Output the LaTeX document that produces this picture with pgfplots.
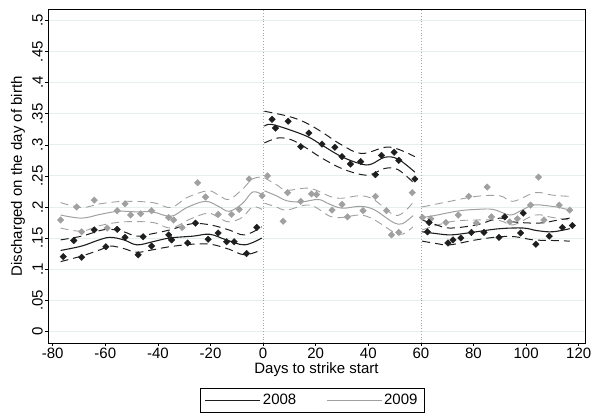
\documentclass[border=0pt]{standalone}
\usepackage{pgfplots}
\pgfplotsset{compat=1.18}
\usepackage{fontspec}
\setmainfont{Liberation Sans}
\definecolor{blk}{HTML}{1E1E1E}
\definecolor{gry}{HTML}{A0A0A0}
\definecolor{gridc}{HTML}{E6EFF0}
\begin{document}
\fontsize{15bp}{18bp}\selectfont
\begin{tikzpicture}
\begin{axis}[
  at={(0,0)}, anchor=south west,
  scale only axis, width=537bp, height=333bp,
  xmin=-81.8, xmax=122.4, ymin=-0.019, ymax=0.517,
  xtick={-80,-60,-40,-20,0,20,40,60,80,100,120},
  xticklabels={-80,-60,-40,-20,0,20,40,60,80,100,120},
  ytick={0,0.05,0.1,0.15,0.2,0.25,0.3,0.35,0.4,0.45,0.5},
  yticklabels={0,.05,.1,.15,.2,.25,.3,.35,.4,.45,.5},
  yticklabel style={rotate=90, anchor=south, inner sep=2bp},
  xticklabel style={inner sep=1.5bp},
  tick align=outside, major tick length=3bp,
  tick style={black, line width=0.6pt},
  xtick pos=bottom, ytick pos=left,
  ymajorgrids, grid style={gridc, line width=0.8pt},
  axis line style={black, line width=1pt},
  xlabel={Days to strike start},
  ylabel={Discharged on the day of birth},
  xlabel style={at={(axis description cs:0.5,-0.081)}, anchor=center},
  ylabel style={at={(axis description cs:-0.056,0.5)}, anchor=center},
  legend style={at={(axis description cs:0.492,-0.136)}, anchor=north, draw=black, line width=0.6pt,
    legend columns=2, inner xsep=5bp, inner ysep=3.5bp,
    /tikz/every even column/.append style={column sep=28bp}},
  legend cell align=left,
  legend image code/.code={\draw[#1] (0bp,0bp) -- (55bp,0bp);},
]
\addlegendimage{blk, line width=1pt}
\addlegendentry{2008}
\addlegendimage{gry, line width=0.8pt}
\addlegendentry{2009}

% vertical reference lines
\addplot[gray!70, dotted, line width=0.8pt, forget plot] coordinates {(0,-0.019) (0,0.517)};
\addplot[gray!70, dotted, line width=0.8pt, forget plot] coordinates {(60,-0.019) (60,0.517)};

\pgfplotsset{gfit/.style={gry, line width=1pt, smooth, tension=0.6, forget plot},
             gci/.style={gry, line width=0.9pt, dash pattern=on 8bp off 5bp, smooth, tension=0.6, forget plot},
             bfit/.style={blk, line width=1.1pt, smooth, tension=0.6, forget plot},
             bci/.style={blk, line width=1pt, dash pattern=on 8bp off 5bp, smooth, tension=0.6, forget plot},
             gpt/.style={only marks, mark=square*, mark size=2.3bp, gry, mark options={fill=gry, rotate=45}, forget plot},
             bpt/.style={only marks, mark=square*, mark size=2.3bp, blk, mark options={fill=blk, rotate=45}, forget plot}}

% ---------------- 2009 (gray) ----------------
\addplot[gfit] coordinates {(-77,0.187) (-69,0.182) (-62,0.188) (-55,0.193) (-48,0.192) (-42,0.192) (-35,0.185) (-29,0.199) (-22,0.209) (-17,0.201) (-13,0.193) (-8,0.205) (-4,0.224) (-0.5,0.220)};
\addplot[gci] coordinates {(-77,0.207) (-69,0.199) (-62,0.205) (-53,0.209) (-42,0.207) (-35,0.199) (-29,0.215) (-21,0.226) (-17,0.219) (-13,0.212) (-8,0.228) (-4,0.245) (-0.5,0.248)};
\addplot[gci] coordinates {(-77,0.166) (-69,0.161) (-62,0.170) (-53,0.176) (-42,0.175) (-35,0.166) (-28,0.180) (-21,0.190) (-17,0.183) (-13,0.176) (-8,0.183) (-4,0.200) (-0.5,0.196)};

\addplot[gfit] coordinates {(0.5,0.226) (5,0.218) (9,0.210) (14.5,0.208) (21,0.212) (25,0.205) (30,0.198) (37,0.201) (42,0.196) (47,0.182) (50,0.174) (53,0.173) (57,0.186)};
\addplot[gci] coordinates {(0.5,0.247) (5,0.236) (9,0.227) (17.7,0.230) (25.4,0.217) (30,0.214) (36.8,0.218) (42,0.212) (49.4,0.188) (53,0.190) (57,0.207)};
\addplot[gci] coordinates {(0.5,0.206) (5,0.200) (9,0.195) (17.7,0.203) (25.4,0.185) (30,0.183) (36.8,0.187) (42,0.180) (49.4,0.160) (53,0.156) (57,0.168)};

\addplot[gfit] coordinates {(60.5,0.183) (65,0.186) (69.7,0.190) (75,0.194) (81,0.196) (87.5,0.196) (93.8,0.187) (98,0.194) (102.7,0.203) (108,0.202) (111.6,0.200) (116.6,0.195)};
\addplot[gci] coordinates {(60.5,0.200) (71,0.209) (81,0.217) (90,0.218) (95,0.209) (103.5,0.223) (110,0.219) (116.6,0.217)};
\addplot[gci] coordinates {(60.5,0.163) (71,0.176) (81,0.179) (90,0.178) (95,0.171) (103.5,0.187) (110,0.183) (116.6,0.179)};

\addplot[gpt] coordinates {(-77.0,0.179) (-70.9,0.200) (-69.0,0.160) (-64.2,0.211) (-59.3,0.166) (-55.5,0.194) (-52.5,0.205) (-50.4,0.187) (-46.6,0.189) (-42.4,0.194) (-35.9,0.183) (-34.0,0.179) (-30.8,0.167) (-24.9,0.239) (-21.9,0.216) (-17.1,0.188) (-12.0,0.188) (-9.1,0.196) (-5.3,0.245) (-0.4,0.218)
 (1.7,0.250) (7.6,0.177) (9.3,0.223) (14.3,0.209) (18.4,0.221) (20.3,0.220) (26.2,0.195) (30.0,0.204) (32.1,0.184) (38.0,0.194) (42.7,0.217) (46.9,0.194) (48.8,0.155) (51.6,0.159) (56.7,0.223)
 (60.6,0.183) (63.8,0.181) (69.5,0.175) (74.2,0.187) (78.2,0.217) (81.1,0.174) (85.2,0.232) (86.8,0.184) (93.8,0.176) (96.7,0.181) (101.7,0.203) (104.7,0.248) (106.8,0.179) (112.6,0.203) (116.6,0.195)};

% ---------------- 2008 (black) ----------------
\addplot[bfit] coordinates {(-77,0.130) (-69,0.137) (-63,0.146) (-58.3,0.151) (-53,0.147) (-48,0.139) (-42,0.144) (-35.5,0.150) (-26.6,0.153) (-20.3,0.156) (-14,0.147) (-7,0.139) (-0.5,0.150)};
\addplot[bci] coordinates {(-77,0.147) (-69,0.153) (-62,0.162) (-58,0.164) (-53,0.160) (-48,0.153) (-42,0.157) (-35.5,0.163) (-27,0.173) (-20,0.171) (-13,0.163) (-7,0.155) (-0.5,0.168)};
\addplot[bci] coordinates {(-77,0.112) (-69,0.121) (-62,0.131) (-58,0.137) (-53,0.133) (-48,0.127) (-42,0.131) (-35.5,0.136) (-27,0.140) (-20,0.140) (-13,0.132) (-7,0.123) (-0.5,0.131)};

\addplot[bfit] coordinates {(0.5,0.330) (3,0.333) (9.5,0.325) (17,0.313) (22.2,0.300) (29.8,0.281) (37.4,0.269) (41.2,0.269) (46.3,0.280) (51.3,0.277) (57.7,0.256)};
\addplot[bci] coordinates {(0.5,0.354) (9.5,0.346) (16,0.336) (22.2,0.321) (29.8,0.300) (37.4,0.286) (46.3,0.296) (51.3,0.293) (57.7,0.281)};
\addplot[bci] coordinates {(0.5,0.303) (5.7,0.311) (10.8,0.308) (16,0.296) (22.2,0.279) (29.8,0.262) (37.4,0.252) (41.5,0.253) (46.3,0.262) (51.3,0.260) (57.7,0.237)};

\addplot[bfit] coordinates {(60.5,0.160) (66,0.157) (71,0.155) (76,0.157) (81,0.160) (90,0.165) (99,0.166) (104,0.162) (110,0.160) (116.6,0.165)};
\addplot[bci] coordinates {(60.5,0.179) (66,0.171) (71,0.166) (81,0.171) (90,0.182) (95,0.176) (105,0.174) (111,0.178) (116.6,0.182)};
\addplot[bci] coordinates {(60.5,0.145) (66,0.141) (71,0.139) (81,0.147) (90,0.152) (96,0.152) (102.7,0.147) (110,0.146) (116.6,0.145)};

\addplot[bpt] coordinates {(-76.0,0.120) (-72.0,0.146) (-69.0,0.119) (-64.2,0.163) (-59.8,0.136) (-55.5,0.164) (-52.5,0.151) (-47.5,0.123) (-45.6,0.152) (-42.4,0.137) (-35.9,0.155) (-34.8,0.147) (-28.7,0.142) (-25.7,0.174) (-20.9,0.148) (-17.1,0.158) (-13.9,0.144) (-11.0,0.144) (-6.3,0.125) (-2.4,0.167)
 (3.4,0.341) (4.7,0.327) (9.5,0.338) (14.3,0.297) (17.4,0.319) (22.4,0.301) (27.3,0.296) (30.0,0.281) (33.2,0.269) (37.1,0.273) (42.7,0.252) (45.0,0.283) (49.8,0.288) (51.6,0.275) (57.7,0.245)
 (62.5,0.160) (63.1,0.175) (70.3,0.142) (72.2,0.147) (75.2,0.150) (79.2,0.159) (84.0,0.159) (89.7,0.151) (91.9,0.184) (97.9,0.158) (98.9,0.190) (103.7,0.140) (108.8,0.153) (113.8,0.167) (117.6,0.170)};
\end{axis}
\path[use as bounding box] (-48bp,-73bp) rectangle (548bp,343bp);
\end{tikzpicture}
\end{document}
